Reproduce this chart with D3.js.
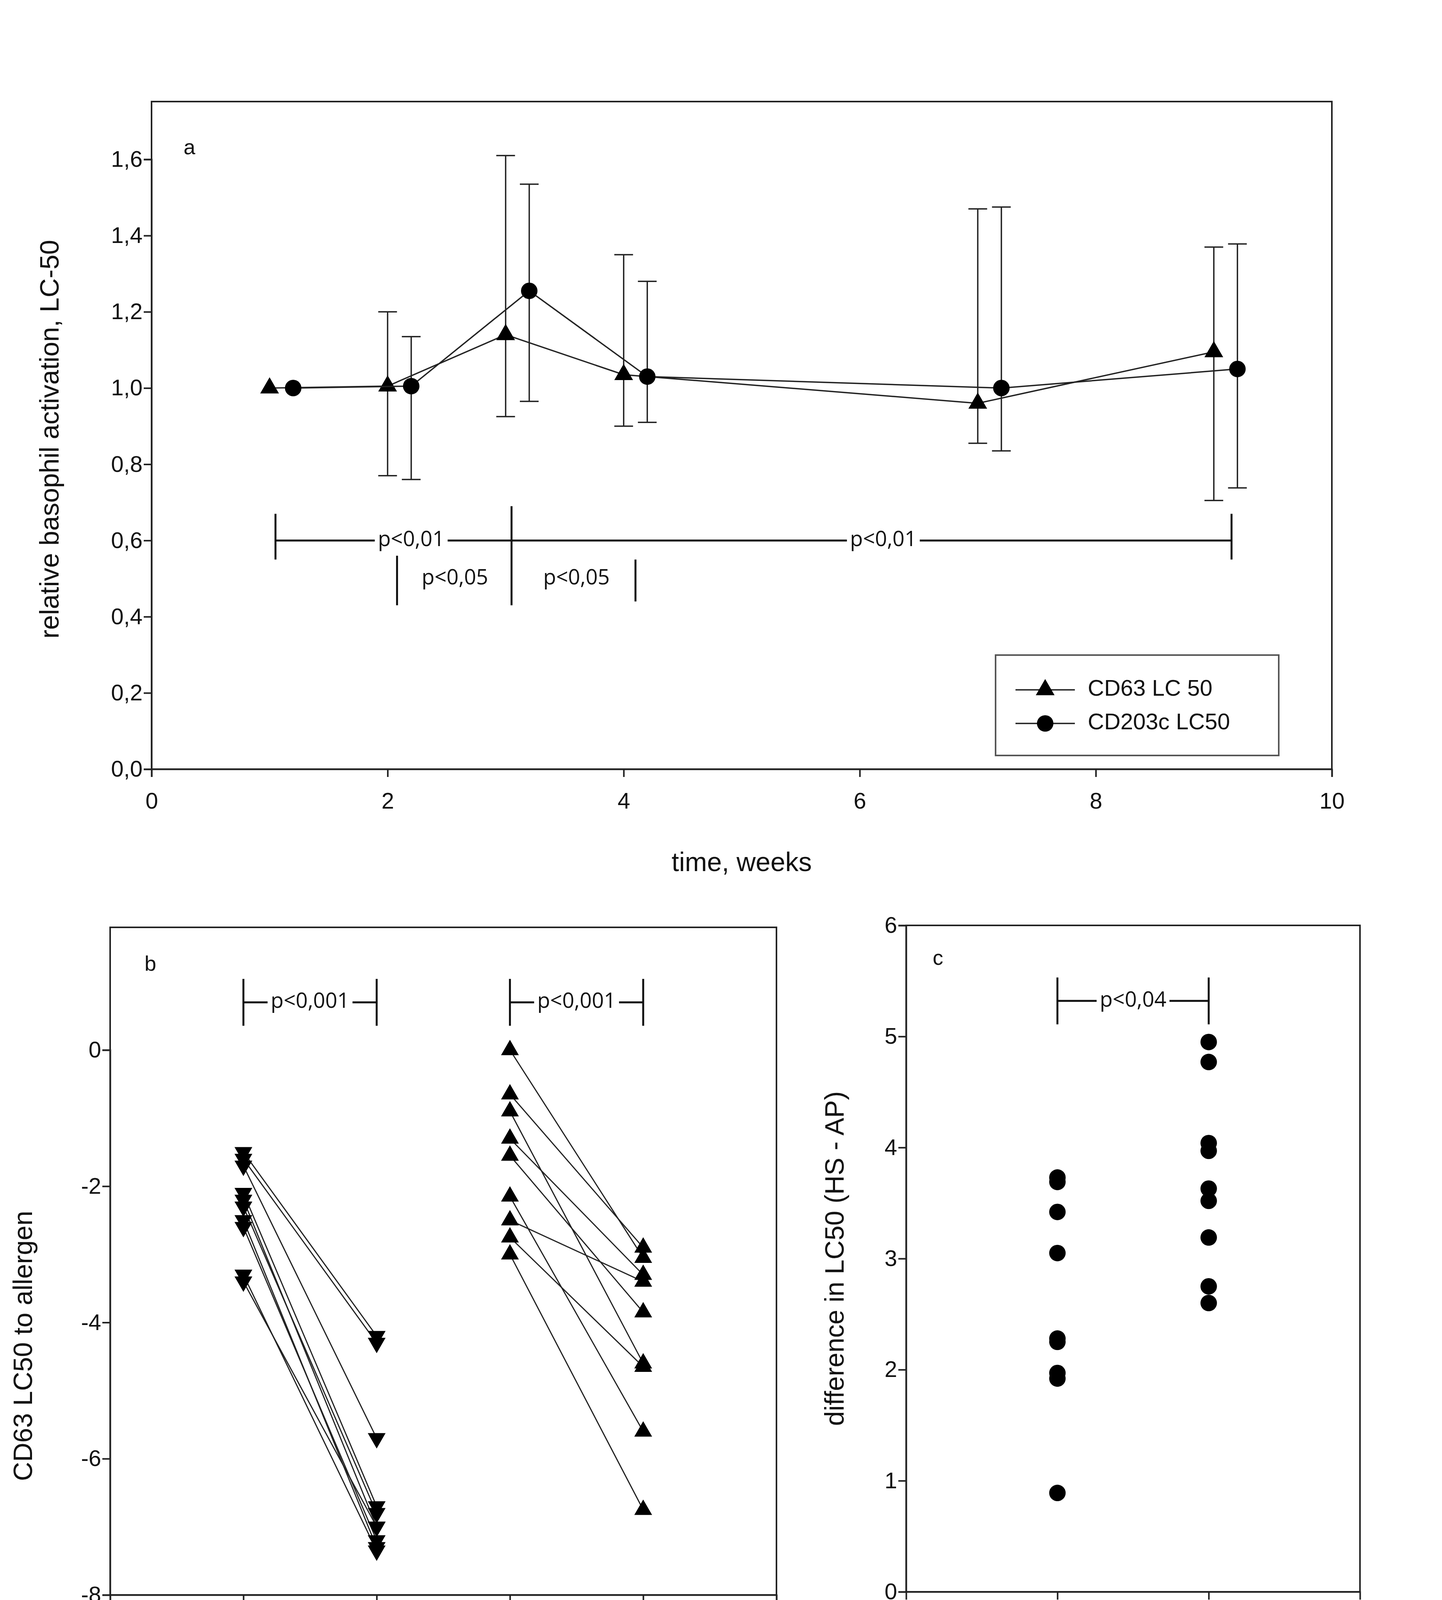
<!DOCTYPE html>
<html><head><meta charset="utf-8">
<script src="https://cdn.jsdelivr.net/npm/d3@7"></script>
<style>html,body{margin:0;background:#fff;overflow:hidden}svg{display:block}text{font-family:"Liberation Sans",Arial,sans-serif;fill:#111}.p{font-family:"Open Sans",sans-serif}</style>
</head><body><svg id="c" width="3692" height="4268"></svg>
<script>
// panel a
const weeks = [1, 2, 3, 4, 7, 9];
const cd63 = [1.0, 1.005, 1.14, 1.035, 0.96, 1.095];
const cd63Hi = [null, 1.2, 1.61, 1.35, 1.47, 1.37];
const cd63Lo = [null, 0.77, 0.925, 0.9, 0.855, 0.705];
const cd203 = [1.0, 1.005, 1.255, 1.03, 1.0, 1.05];
const cd203Hi = [null, 1.135, 1.535, 1.28, 1.475, 1.378];
const cd203Lo = [null, 0.76, 0.965, 0.91, 0.835, 0.738];
const xTicksA = [0, 2, 4, 6, 8, 10];
const yTicksA = [0, 0.2, 0.4, 0.6, 0.8, 1.0, 1.2, 1.4, 1.6];
// panel b
const groupsB = ["Base AP", "Base HS", "Maint AP", "Maint HS"];
const baseAP = [-1.5, -1.6, -1.7, -2.1, -2.2, -2.3, -2.5, -2.6, -3.3, -3.4];
const baseHS = [-4.2, -4.3, -5.7, -6.7, -7.0, -6.8, -7.3, -7.2, -7.35, -7.0];
const maintAP = [0, -0.65, -0.9, -1.3, -1.55, -2.15, -2.5, -2.75, -3.0];
const maintHS = [-3.05, -2.9, -4.6, -3.3, -3.85, -5.6, -3.4, -4.65, -6.75];
const yTicksB = [0, -2, -4, -6, -8];
// panel c
const groupsC = ["Base diff", "Maint diff"];
const baseDiff = [3.73, 3.69, 3.42, 3.05, 2.28, 2.25, 1.97, 1.92, 0.89];
const maintDiff = [4.95, 4.77, 4.04, 3.97, 3.63, 3.52, 3.19, 2.75, 2.6];
const yTicksC = [0, 1, 2, 3, 4, 5, 6];

const svg = d3.select("#c");
const fs = 58;
const tri = d3.symbol().type(d3.symbolTriangle).size(1000);
const dot = d3.symbol().type(d3.symbolCircle).size(1400);
const intFmt = d => String(d);

function frame(g, x0, x1, y0, y1) {
  g.append("rect").attr("x", x0).attr("y", y0).attr("width", x1 - x0).attr("height", y1 - y0)
    .attr("fill", "none").attr("stroke", "#222").attr("stroke-width", 4);
}
function styleAxis(a) {
  a.selectAll("path,line").attr("stroke", "#222").attr("stroke-width", 4);
  a.selectAll("text").style("font-size", fs + "px").attr("fill", "#111")
    .style("font-family", '"Liberation Sans",Arial,sans-serif');
}
function pText(g, x, y, t) {
  const tx = g.append("text").attr("class", "p").attr("x", x).attr("y", y).attr("text-anchor", "middle")
    .attr("dominant-baseline", "middle").style("font-size", "54px").text(t);
  const b = tx.node().getBBox();
  g.insert("rect", () => tx.node()).attr("x", b.x - 8).attr("y", b.y).attr("width", b.width + 16)
    .attr("height", b.height).attr("fill", "#fff");
}
function bracket(g, xa, xb, y, h, t) {
  g.append("line").attr("x1", xa).attr("x2", xb).attr("y1", y).attr("y2", y).attr("stroke", "#111").attr("stroke-width", 5);
  [xa, xb].forEach(x => g.append("line").attr("x1", x).attr("x2", x).attr("y1", y - h).attr("y2", y + h)
    .attr("stroke", "#111").attr("stroke-width", 5));
  pText(g, (xa + xb) / 2, y, t);
}

// ---------- panel a ----------
{
  const L = 388, R = 3410, T = 260, B = 1969;
  const x = d3.scaleLinear().domain([0, 10]).range([L, R]);
  const y = d3.scaleLinear().domain([0, 1.6]).range([B, 408]);
  const g = svg.append("g");
  frame(g, L, R, T, B);
  styleAxis(g.append("g").attr("transform", `translate(0,${B})`)
    .call(d3.axisBottom(x).tickValues(xTicksA).tickSize(20).tickPadding(40).tickFormat(intFmt)));
  styleAxis(g.append("g").attr("transform", `translate(${L},0)`)
    .call(d3.axisLeft(y).tickValues(yTicksA).tickSize(20).tickFormat(d => d3.format(".1f")(d).replace(".", ","))));
  g.append("text").attr("x", (L + R) / 2).attr("y", 2230).attr("text-anchor", "middle").style("font-size", "68px").text("time, weeks");
  g.append("text").attr("transform", `translate(150,${(T + B) / 2 + 10}) rotate(-90)`).attr("text-anchor", "middle")
    .style("font-size", "68px").text("relative basophil activation, LC-50");
  g.append("text").attr("x", 470).attr("y", 395).style("font-size", "54px").text("a");

  const series = [
    {off: 0, v: cd63, hi: cd63Hi, lo: cd63Lo, sym: tri},
    {off: 0.2, v: cd203, hi: cd203Hi, lo: cd203Lo, sym: dot}
  ];
  series.forEach(s => {
    const pts = weeks.map((w, i) => [x(w + s.off), y(s.v[i])]);
    g.append("path").attr("d", d3.line()(pts)).attr("fill", "none").attr("stroke", "#222").attr("stroke-width", 3.5);
    weeks.forEach((w, i) => {
      if (s.hi[i] == null) return;
      const cx = x(w + s.off);
      g.append("line").attr("x1", cx).attr("x2", cx).attr("y1", y(s.hi[i])).attr("y2", y(s.lo[i])).attr("stroke", "#222").attr("stroke-width", 3.5);
      [s.hi[i], s.lo[i]].forEach(v => g.append("line").attr("x1", cx - 24).attr("x2", cx + 24).attr("y1", y(v)).attr("y2", y(v))
        .attr("stroke", "#222").attr("stroke-width", 3.5));
    });
    g.selectAll(null).data(pts).join("path").attr("d", s.sym).attr("fill", "#000")
      .attr("transform", d => `translate(${d[0]},${d[1]})`);
  });

  // significance brackets
  const yb = y(0.6);
  g.append("line").attr("x1", x(1.05)).attr("x2", x(9.15)).attr("y1", yb).attr("y2", yb).attr("stroke", "#111").attr("stroke-width", 5);
  [1.05, 9.15].forEach(w => g.append("line").attr("x1", x(w)).attr("x2", x(w)).attr("y1", y(0.67)).attr("y2", y(0.55))
    .attr("stroke", "#111").attr("stroke-width", 5));
  g.append("line").attr("x1", x(3.05)).attr("x2", x(3.05)).attr("y1", y(0.69)).attr("y2", y(0.43)).attr("stroke", "#111").attr("stroke-width", 5);
  [[2.08, 0.56, 0.43], [4.1, 0.55, 0.44]].forEach(d => g.append("line").attr("x1", x(d[0])).attr("x2", x(d[0]))
    .attr("y1", y(d[1])).attr("y2", y(d[2])).attr("stroke", "#111").attr("stroke-width", 5));
  pText(g, x(2.2), yb, "p<0,01");
  pText(g, x(6.2), yb, "p<0,01");
  pText(g, x(2.57), y(0.5), "p<0,05");
  pText(g, x(3.6), y(0.5), "p<0,05");

  // legend
  const lg = g.append("g");
  lg.append("rect").attr("x", 2549).attr("y", 1677).attr("width", 725).attr("height", 257).attr("fill", "#fff").attr("stroke", "#555").attr("stroke-width", 4);
  [["CD63 LC 50", tri, 1766], ["CD203c LC50", dot, 1852]].forEach(d => {
    lg.append("line").attr("x1", 2600).attr("x2", 2752).attr("y1", d[2]).attr("y2", d[2]).attr("stroke", "#222").attr("stroke-width", 3.5);
    lg.append("path").attr("d", d[1]).attr("transform", `translate(2676,${d[2]})`).attr("fill", "#000");
    lg.append("text").attr("x", 2785).attr("y", d[2]).attr("dominant-baseline", "middle").style("font-size", "58px").text(d[0]);
  });
}

// ---------- panel b ----------
{
  const L = 282, R = 1988, T = 2374, B = 4083;
  const x = d3.scaleLinear().domain([0, 5]).range([L, R]);
  const y = d3.scaleLinear().domain([-8, 0]).range([B, 2688]);
  const g = svg.append("g");
  frame(g, L, R, T, B);
  styleAxis(g.append("g").attr("transform", `translate(0,${B})`)
    .call(d3.axisBottom(x).tickValues([0, 1, 2, 3, 4, 5]).tickSize(20).tickPadding(40).tickFormat(d => groupsB[d - 1] || "")));
  styleAxis(g.append("g").attr("transform", `translate(${L},0)`)
    .call(d3.axisLeft(y).tickValues(yTicksB).tickSize(20).tickFormat(intFmt)));
  g.append("text").attr("transform", `translate(82,${(2688 + B) / 2 + 60}) rotate(-90)`).attr("text-anchor", "middle")
    .style("font-size", "68px").text("CD63 LC50 to allergen");
  g.append("text").attr("x", 370).attr("y", 2485).style("font-size", "54px").text("b");

  const downTri = d3.symbol().type(d3.symbolTriangle).size(900);
  const pairs = [[baseAP, baseHS, 1, 2, 180], [maintAP, maintHS, 3, 4, 0]];
  pairs.forEach(([a, b, ia, ib, rot]) => {
    a.forEach((v, i) => g.append("line").attr("x1", x(ia)).attr("x2", x(ib)).attr("y1", y(v)).attr("y2", y(b[i]))
      .attr("stroke", "#222").attr("stroke-width", 3));
    [[a, ia], [b, ib]].forEach(([vals, ix]) => g.selectAll(null).data(vals).join("path").attr("d", downTri).attr("fill", "#000")
      .attr("transform", v => `translate(${x(ix)},${y(v)}) rotate(${rot})`));
  });
  const yb = y(0.7);
  bracket(g, x(1), x(2), yb, 60, "p<0,001");
  bracket(g, x(3), x(4), yb, 60, "p<0,001");
}

// ---------- panel c ----------
{
  const L = 2320, R = 3482, T = 2369, B = 4075;
  const x = d3.scaleLinear().domain([0, 3]).range([L, R]);
  const y = d3.scaleLinear().domain([0, 6]).range([B, T]);
  const g = svg.append("g");
  frame(g, L, R, T, B);
  styleAxis(g.append("g").attr("transform", `translate(0,${B})`)
    .call(d3.axisBottom(x).tickValues([1, 2]).tickSize(20).tickPadding(40).tickFormat(d => groupsC[d - 1])));
  styleAxis(g.append("g").attr("transform", `translate(${L},0)`)
    .call(d3.axisLeft(y).tickValues(yTicksC).tickSize(20).tickFormat(intFmt)));
  g.append("text").attr("transform", `translate(2160,${(T + B) / 2}) rotate(-90)`).attr("text-anchor", "middle")
    .style("font-size", "68px").text("difference in LC50 (HS - AP)");
  g.append("text").attr("x", 2388).attr("y", 2470).style("font-size", "54px").text("c");
  [[baseDiff, 1], [maintDiff, 2]].forEach(([vals, ix]) => g.selectAll(null).data(vals).join("path").attr("d", dot).attr("fill", "#000")
    .attr("transform", v => `translate(${x(ix)},${y(v)})`));
  bracket(g, x(1), x(2), y(5.32), 60, "p<0,04");
}
</script></body></html>
